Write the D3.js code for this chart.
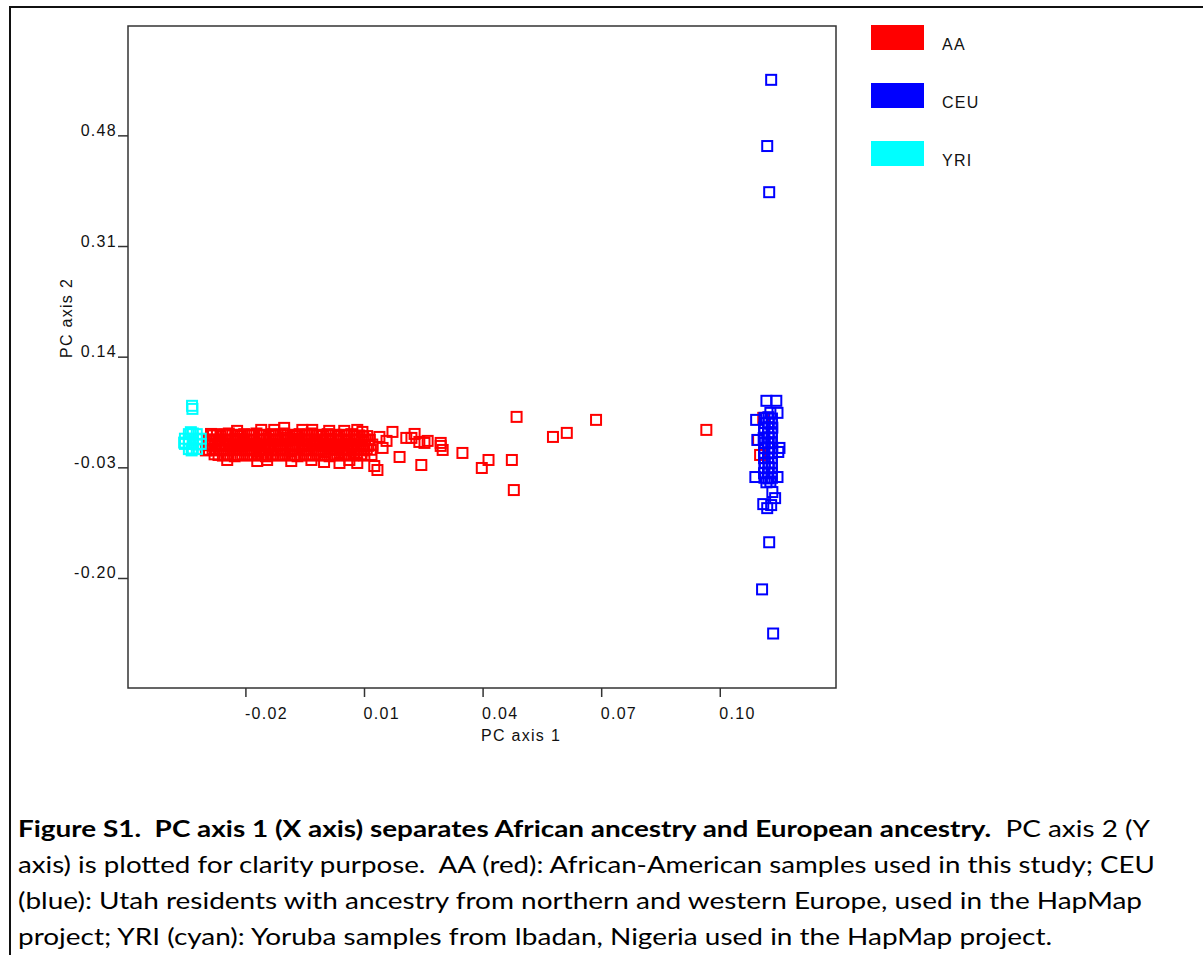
<!DOCTYPE html>
<html lang="en">
<head>
<meta charset="utf-8">
<title>Figure S1</title>
<script src="https://cdn.jsdelivr.net/npm/d3@7"></script>
<style>
  body { margin: 0; background: #fff; }
  .axis text, .lab { font-family: "Liberation Sans", Arial, sans-serif; font-size: 16px; letter-spacing: 1.3px; fill: #111; }
  .axis line { stroke: #333; stroke-width: 1.5px; }
  .caption { font-family: Lato, "Liberation Sans", sans-serif; font-size: 23px; fill: #000; white-space: pre; }
</style>
</head>
<body>
<div id="chart"></div>
<script>
// PC axis 1 / PC axis 2 values
var aa = [
  // dense core
  [-0.0282,0.019],[-0.0272,0.021],[-0.0263,0.018],[-0.0251,0.020],[-0.0242,0.022],[-0.0233,0.019],[-0.0221,0.020],[-0.0212,0.018],[-0.0203,0.021],[-0.0191,0.019],
  [-0.0183,0.020],[-0.0172,0.022],[-0.0162,0.019],[-0.0153,0.020],[-0.0141,0.018],[-0.0132,0.021],[-0.0123,0.019],[-0.0111,0.020],[-0.0102,0.022],[-0.0093,0.019],
  [-0.0081,0.020],[-0.0072,0.018],[-0.0063,0.021],[-0.0051,0.019],[-0.0042,0.020],[-0.0033,0.022],[-0.0021,0.019],[-0.0012,0.020],[-0.0003,0.018],[0.0008,0.021],
  [0.0017,0.019],[0.0028,0.020],[0.0037,0.018],[0.0048,0.020],[0.0057,0.019],[0.0068,0.021],[0.0077,0.018],[0.0088,0.019],[0.0098,0.017],[0.0108,0.018],
  [-0.0292,0.012],[-0.0284,0.013],[-0.0277,0.011],[-0.0266,0.012],[-0.0257,0.013],[-0.0246,0.011],[-0.0237,0.012],[-0.0226,0.014],[-0.0217,0.012],[-0.0206,0.011],
  [-0.0197,0.013],[-0.0186,0.012],[-0.0177,0.011],[-0.0166,0.013],[-0.0157,0.012],[-0.0146,0.014],[-0.0137,0.012],[-0.0126,0.011],[-0.0117,0.013],[-0.0106,0.012],
  [-0.0097,0.011],[-0.0086,0.013],[-0.0077,0.012],[-0.0066,0.014],[-0.0057,0.012],[-0.0046,0.011],[-0.0037,0.013],[-0.0026,0.012],[-0.0017,0.011],[-0.0006,0.013],
  [0.0003,0.012],[0.0014,0.014],[0.0023,0.012],[0.0034,0.011],[0.0043,0.013],[0.0054,0.012],[0.0063,0.011],[0.0074,0.013],[0.0083,0.012],[0.0094,0.011],
  [0.0103,0.013],[0.0114,0.012],
  [-0.0297,0.004],[-0.0288,0.005],[-0.0279,0.003],[-0.0268,0.004],[-0.0259,0.006],[-0.0249,0.004],[-0.0239,0.003],[-0.0229,0.005],[-0.0219,0.004],[-0.0209,0.003],
  [-0.0199,0.005],[-0.0189,0.004],[-0.0179,0.006],[-0.0169,0.004],[-0.0159,0.003],[-0.0149,0.005],[-0.0139,0.004],[-0.0129,0.003],[-0.0119,0.005],[-0.0109,0.004],
  [-0.0099,0.006],[-0.0089,0.004],[-0.0079,0.003],[-0.0069,0.005],[-0.0059,0.004],[-0.0049,0.003],[-0.0039,0.005],[-0.0029,0.004],[-0.0019,0.006],[-0.0009,0.004],
  [0.0001,0.003],[0.0011,0.005],[0.0021,0.004],[0.0031,0.003],[0.0041,0.005],[0.0051,0.004],[0.0061,0.006],[0.0071,0.004],[0.0081,0.003],[0.0091,0.005],
  [0.0101,0.004],[0.0111,0.003],[0.0121,0.005],
  [-0.0292,-0.003],[-0.0283,-0.002],[-0.0273,-0.004],[-0.0262,-0.003],[-0.0253,-0.002],[-0.0243,-0.004],[-0.0232,-0.003],[-0.0223,-0.001],[-0.0213,-0.003],[-0.0202,-0.004],
  [-0.0193,-0.002],[-0.0183,-0.003],[-0.0172,-0.004],[-0.0163,-0.002],[-0.0153,-0.003],[-0.0142,-0.001],[-0.0133,-0.003],[-0.0123,-0.004],[-0.0112,-0.002],[-0.0103,-0.003],
  [-0.0093,-0.004],[-0.0082,-0.002],[-0.0073,-0.003],[-0.0063,-0.001],[-0.0052,-0.003],[-0.0043,-0.004],[-0.0033,-0.002],[-0.0022,-0.003],[-0.0013,-0.004],[-0.0003,-0.002],
  [0.0008,-0.003],[0.0017,-0.001],[0.0027,-0.003],[0.0038,-0.004],[0.0047,-0.002],[0.0057,-0.003],[0.0068,-0.004],[0.0077,-0.002],[0.0087,-0.003],[0.0098,-0.004],
  [0.0107,-0.002],[0.0117,-0.003],
  [-0.0278,-0.010],[-0.0268,-0.011],[-0.0257,-0.012],[-0.0248,-0.010],[-0.0238,-0.011],[-0.0227,-0.013],[-0.0218,-0.011],[-0.0208,-0.010],[-0.0197,-0.012],[-0.0188,-0.011],
  [-0.0178,-0.010],[-0.0167,-0.012],[-0.0158,-0.011],[-0.0148,-0.013],[-0.0137,-0.011],[-0.0128,-0.010],[-0.0118,-0.012],[-0.0107,-0.011],[-0.0098,-0.010],[-0.0088,-0.012],
  [-0.0077,-0.011],[-0.0068,-0.013],[-0.0058,-0.011],[-0.0047,-0.010],[-0.0038,-0.012],[-0.0028,-0.011],[-0.0017,-0.010],[-0.0008,-0.012],[0.0002,-0.011],[0.0013,-0.013],
  [0.0022,-0.011],[0.0032,-0.010],[0.0043,-0.012],[0.0052,-0.011],[0.0062,-0.010],[0.0073,-0.012],[0.0082,-0.011],[0.0092,-0.010],[0.0101,-0.012],
  // ragged edges
  [-0.0287,0.0213],[-0.0221,0.026],[-0.0160,0.0275],[-0.0127,0.0275],[-0.0102,0.0306],[-0.0056,0.0275],[-0.0031,0.0275],[0.0012,0.026],[0.0050,0.026],[0.0083,0.0275],
  [0.0096,0.0244],[-0.0246,-0.0187],[-0.0170,-0.0203],[-0.0145,-0.0187],[-0.0084,-0.0203],[-0.0033,-0.0187],[-0.0001,-0.0218],[0.0038,-0.0233],[0.0063,-0.0187],[0.0083,-0.0233],
  [0.0126,-0.028],[-0.0300,-0.004],
  // tail towards CEU
  [0.0119,-0.011],[0.0114,0.0121],[0.0139,0.0167],[0.0172,0.0244],[0.0228,0.0213],[0.0207,0.0152],[0.0220,0.0152],[0.0240,0.009],[0.0253,0.0075],[0.0261,0.0106],
  [0.0294,0.0029],[0.0299,-0.0033],[0.0294,0.0075],[0.0157,0.0106],[0.0147,-0.0002],[0.0190,-0.0141],[0.0245,-0.0264],[0.0134,-0.0341],[0.0349,-0.0079],[0.0415,-0.0187],
  [0.0398,-0.031],[0.0474,-0.0187],[0.0479,-0.0649],[0.0486,0.0475],[0.0578,0.0167],[0.0613,0.0229],[0.0687,0.0429],[0.0966,0.0275],
  [0.1110,0.046],[0.1102,-0.011],[0.1097,0.012]
];

var ceu = [
  [0.1113,0.046],[0.1123,0.047],[0.1132,0.045],[0.1114,0.038],[0.1124,0.039],[0.1131,0.037],
  [0.1112,0.031],[0.1122,0.030],[0.1133,0.031],[0.1113,0.023],[0.1123,0.022],[0.1131,0.024],
  [0.1111,0.015],[0.1124,0.016],[0.1132,0.015],[0.1114,0.008],[0.1122,0.007],[0.1130,0.008],
  [0.1112,0.000],[0.1123,-0.001],[0.1133,0.000],[0.1113,-0.008],[0.1124,-0.007],[0.1131,-0.008],
  [0.1112,-0.016],[0.1122,-0.015],[0.1132,-0.016],[0.1114,-0.023],[0.1123,-0.024],[0.1131,-0.023],
  [0.1113,-0.031],[0.1124,-0.030],[0.1132,-0.031],[0.1112,-0.039],[0.1122,-0.038],[0.1131,-0.039],
  [0.1113,-0.046],[0.1123,-0.047],[0.1132,-0.046],[0.1118,-0.053],[0.1128,-0.052],
  [0.1118,0.0722],[0.1143,0.0722],[0.1128,0.0537],[0.1146,0.0537],[0.1092,0.0429],[0.1095,0.0121],
  [0.1151,-0.0002],[0.1148,-0.0064],[0.1090,-0.0449],[0.1146,-0.0449],[0.1133,-0.068],[0.1140,-0.0773],
  [0.1110,-0.0865],[0.1120,-0.0927],[0.1130,-0.088],
  [0.1130,0.5653],[0.1120,0.4636],[0.1125,0.3927],[0.1125,-0.1451],[0.1107,-0.2175],[0.1135,-0.2853]
];

var yri = [
  [-0.0338,0.024],[-0.0343,0.021],[-0.0333,0.022],[-0.0323,0.021],
  [-0.0353,0.014],[-0.0343,0.013],[-0.0333,0.014],[-0.0323,0.013],[-0.0313,0.014],
  [-0.0355,0.008],[-0.0353,0.006],[-0.0343,0.007],[-0.0333,0.006],[-0.0323,0.005],[-0.0313,0.006],
  [-0.0343,-0.002],[-0.0333,-0.001],[-0.0323,-0.002],[-0.0336,-0.004],
  [-0.0335,0.0645],[-0.0334,0.0598]
];

var groups = ["AA", "CEU", "YRI"];
var groupColors = ["#ff0000", "#0000ff", "#00ffff"];

var xTicks = [-0.02, 0.01, 0.04, 0.07, 0.10];
var xTickLabels = ["-0.02", "0.01", "0.04", "0.07", "0.10"];
var yTicks = [0.48, 0.31, 0.14, -0.03, -0.20];
var yTickLabels = ["0.48", "0.31", "0.14", "-0.03", "-0.20"];

var captionLines = [
  [["Figure S1.  PC axis 1 (X axis) separates African ancestry and European ancestry.", "bold"], ["  PC axis 2 (Y", "normal"]],
  [["axis) is plotted for clarity purpose.  AA (red): African-American samples used in this study; CEU", "normal"]],
  [["(blue): Utah residents with ancestry from northern and western Europe, used in the HapMap", "normal"]],
  [["project; YRI (cyan): Yoruba samples from Ibadan, Nigeria used in the HapMap project.", "normal"]]
];
var captionWidths = [1132, 1137, 1124, 1034];

var width = 1203, height = 955;

var svg = d3.select("#chart").append("svg")
    .attr("width", width)
    .attr("height", height)
    .style("display", "block");

svg.append("rect").attr("width", width).attr("height", height).attr("fill", "#fff");

// outer frame (top and left)
svg.append("path")
    .attr("d", "M10,955V7H1203")
    .attr("fill", "none")
    .attr("stroke", "#111")
    .attr("stroke-width", 2);

var x = d3.scaleLinear().domain([-0.0497, 0.1294]).range([128, 836]);
var y = d3.scaleLinear().domain([-0.369, 0.648]).range([688, 26]);

// points: AA first, then CEU, then YRI on top
var series = [aa, ceu, yri];
series.forEach(function(pts, i) {
  svg.append("g").selectAll("rect")
      .data(pts)
    .enter().append("rect")
      .attr("x", function(d) { return x(d[0]) - 5; })
      .attr("y", function(d) { return y(d[1]) - 5; })
      .attr("width", 10)
      .attr("height", 10)
      .attr("fill", "none")
      .attr("stroke", groupColors[i])
      .attr("stroke-width", 2);
});

// plot box
svg.append("rect")
    .attr("x", 128).attr("y", 26)
    .attr("width", 836 - 128).attr("height", 688 - 26)
    .attr("fill", "none")
    .attr("stroke", "#333")
    .attr("stroke-width", 1.5);

var xAxis = svg.append("g")
    .attr("class", "axis")
    .attr("transform", "translate(0,688)")
    .call(d3.axisBottom(x).tickValues(xTicks).tickSize(9)
      .tickFormat(function(d, i) { return xTickLabels[i]; }));
xAxis.select(".domain").remove();
xAxis.selectAll("text")
    .attr("text-anchor", "start")
    .attr("x", -1)
    .attr("y", 31)
    .attr("dy", 0);

var yAxis = svg.append("g")
    .attr("class", "axis")
    .attr("transform", "translate(128,0)")
    .call(d3.axisLeft(y).tickValues(yTicks).tickSize(10)
      .tickFormat(function(d, i) { return yTickLabels[i]; }));
yAxis.select(".domain").remove();
yAxis.selectAll("text")
    .attr("x", -11)
    .attr("dy", 0);

svg.append("text")
    .attr("class", "lab")
    .attr("x", 521)
    .attr("y", 741)
    .attr("text-anchor", "middle")
    .text("PC axis 1");

svg.append("text")
    .attr("class", "lab")
    .attr("transform", "translate(72,318) rotate(-90)")
    .attr("text-anchor", "middle")
    .text("PC axis 2");

// legend
var legend = svg.append("g").selectAll("g")
    .data(groups)
  .enter().append("g")
    .attr("transform", function(d, i) { return "translate(871," + (25 + i * 58) + ")"; });
legend.append("rect")
    .attr("width", 53)
    .attr("height", 25)
    .attr("fill", function(d, i) { return groupColors[i]; });
legend.append("text")
    .attr("class", "lab")
    .attr("x", 71)
    .attr("y", 25)
    .text(function(d) { return d; });

// caption
var caption = svg.append("g").selectAll("text")
    .data(captionLines)
  .enter().append("text")
    .attr("class", "caption")
    .attr("x", 18)
    .attr("y", function(d, i) { return 837 + i * 36; })
    .attr("textLength", function(d, i) { return captionWidths[i]; })
    .attr("lengthAdjust", "spacingAndGlyphs");
caption.selectAll("tspan")
    .data(function(d) { return d; })
  .enter().append("tspan")
    .attr("font-weight", function(d) { return d[1]; })
    .text(function(d) { return d[0]; });
</script>
</body>
</html>
